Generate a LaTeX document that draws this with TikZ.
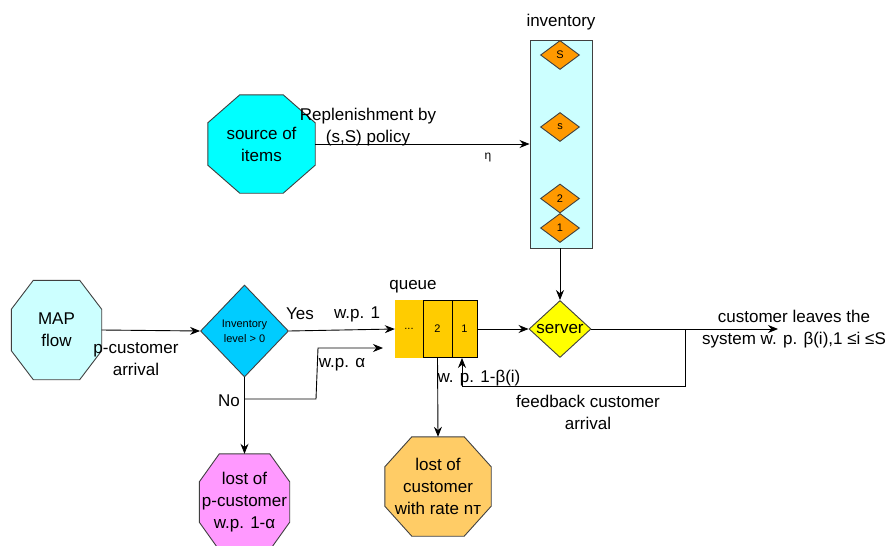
\documentclass[tikz,border=0pt]{standalone}
\usepackage{fontspec}
\setmainfont{Liberation Sans}
\usetikzlibrary{shapes.geometric,calc,arrows.meta,backgrounds}
\definecolor{linegray}{HTML}{404040}
\definecolor{cyanA}{HTML}{00FFFF}
\definecolor{cyanL}{HTML}{CCFFFF}
\definecolor{orangeD}{HTML}{FF9900}
\definecolor{blueD}{HTML}{00CCFF}
\definecolor{queueY}{HTML}{FFCC00}
\definecolor{serverY}{HTML}{FFFF00}
\definecolor{pinkO}{HTML}{FF99FF}
\definecolor{orangeO}{HTML}{FFCC66}
\newcommand\octfill[4]{%
  \filldraw[fill=#2,draw=linegray,line width=0.9pt]
    ($(#1.north west)+(#3,0)$) -- ($(#1.north east)+(-#3,0)$) --
    ($(#1.north east)+(0,#4)$) -- ($(#1.south east)+(0,-#4)$) --
    ($(#1.south east)+(-#3,0)$) -- ($(#1.south west)+(#3,0)$) --
    ($(#1.south west)+(0,-#4)$) -- ($(#1.north west)+(0,#4)$) -- cycle;}
\tikzset{
  big/.style={font=\fontsize{17}{22}\selectfont},
  small/.style={font=\fontsize{11}{15}\selectfont},
  octbox/.style={big,align=center,inner sep=0pt,rectangle},
  lbl/.style={big,align=center,inner sep=0pt},
  arr/.style={draw=black,line width=0.9pt,-{Stealth[length=10pt,width=8pt]}},
  ln/.style={draw=black,line width=0.9pt},
  invdia/.style={diamond,draw=linegray,line width=0.9pt,fill=orangeD,inner sep=0pt,
    minimum width=39pt,minimum height=29pt,small},
}
\begin{document}
\begin{tikzpicture}[x=1pt,y=-1pt]
\useasboundingbox (0,0) rectangle (889,546);

% octagons
\node[octbox,minimum width=107pt,minimum height=98pt] (src) at (261.5,144) {source of\\items};
\node[octbox,minimum width=90pt,minimum height=99pt] (map) at (56.5,330) {MAP\\flow};
\node[octbox,minimum width=90pt,minimum height=96pt] (lostp) at (244.5,502) {lost of\\p-customer\\w.p. 1-α};
\node[octbox,minimum width=106pt,minimum height=99pt] (lostc) at (438,486.5) {lost of\\customer\\with rate nт};
\begin{scope}[on background layer]
  \octfill{src}{cyanA}{32}{28}
  \octfill{map}{cyanL}{22}{29}
  \octfill{lostp}{pinkO}{20}{28}
  \octfill{lostc}{orangeO}{27}{30}
\end{scope}

% inventory box
\node[draw=linegray,line width=0.9pt,fill=cyanL,minimum width=62pt,minimum height=208pt,inner sep=0pt] (inv) at (561,144) {};
\node[lbl] (invL) at (561,22) {inventory};
\node[invdia] (dS) at (560,55) {S};
\node[invdia] (ds) at (560,127) {s};
\node[invdia] (d2) at (560,198.5) {2};
\node[invdia] (d1) at (560,228) {1};

% decision diamond
\node[diamond,draw=linegray,line width=0.9pt,fill=blueD,minimum width=88pt,minimum height=92pt,inner sep=0pt,small,align=center] (invd) at (244.5,331) {Inventory\\level > 0};

% queue
\node[rectangle,fill=queueY,draw=queueY,minimum width=28pt,minimum height=57pt,inner sep=0pt,small] (q0) at (409,329) {...};
\node[rectangle,fill=queueY,draw=black,line width=0.9pt,minimum width=29pt,minimum height=57pt,inner sep=0pt,small] (q2) at (437.5,329) {2};
\node[rectangle,fill=queueY,draw=black,line width=0.9pt,minimum width=25pt,minimum height=57pt,inner sep=0pt,small] (q1) at (464.5,329) {1};
\node[lbl] (qL) at (413,287) {queue};

% server
\node[diamond,draw=linegray,line width=0.9pt,fill=serverY,minimum width=62pt,minimum height=57pt,inner sep=0pt,big] (srv) at (560,329) {server};

% coordinates
\coordinate (nob) at (244.5,399);
\coordinate (nob2) at (316,399);
\coordinate (nob3) at (318,348);
\coordinate (aend) at (383,348);
\coordinate (fb1) at (685,329);
\coordinate (fb2) at (685,386);
\coordinate (fb3) at (462,386);
\coordinate (outE) at (778,329);

% connectors
\draw[arr] (src.east) -- (src.east -| inv.west);
\draw[arr] (inv.south -| d1) -- (srv.north);
\draw[arr] (map.east) -- (invd.west);
\draw[arr] (invd.east) -- (q0.west);
\draw[arr] (invd.south) -- (lostp.north);
\draw[arr] (nob) -- (nob2) -- (nob3) -- (aend);
\draw[arr] (q1.east) -- (srv.west);
\draw[arr] (srv.east) -- (outE);
\draw[arr] (fb1) -- (fb2) -- (fb3) -- (fb3 |- q1.south);
\draw[arr] (q2.south) -- (lostc.north);

% labels
\node[lbl] (repl) at (368,127) {Replenishment by\\(s,S) policy};
\node[font=\fontsize{12}{14}\selectfont] (eta) at (488,158) {η};
\node[lbl] (pcust) at (136,359) {p-customer\\arrival};
\node[lbl] (yes) at (300,314) {Yes};
\node[lbl] (wp1) at (357,314) {w.p. 1};
\node[lbl] (wpa) at (342,365) {w.p. α};
\node[lbl] (no) at (229,401) {No};
\node[lbl] (wpb) at (479,378) {w. p. 1-β(i)};
\node[lbl] (fbL) at (588,412) {feedback customer\\arrival};
\node[lbl] (leave) at (794,329) {customer leaves the\\system w. p. β(i),1 ≤i ≤S};
\end{tikzpicture}
\end{document}
